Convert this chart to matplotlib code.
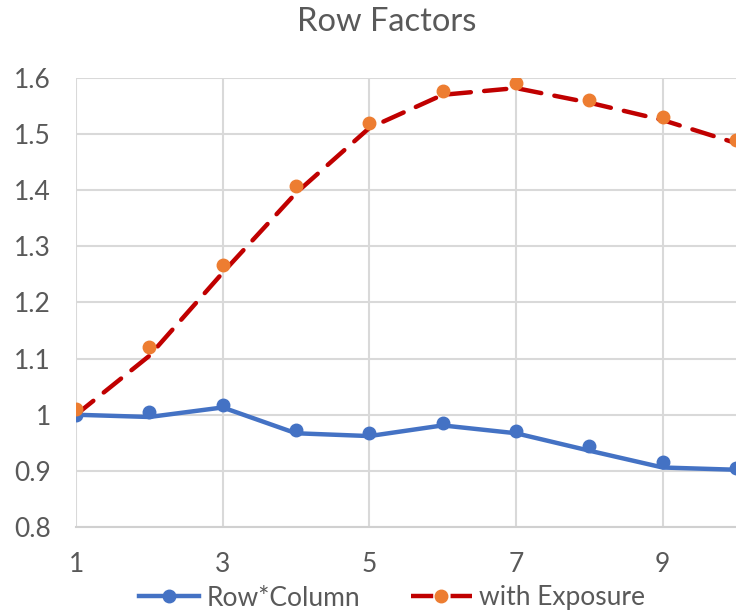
import numpy as np
import matplotlib.pyplot as plt
from matplotlib.lines import Line2D

plt.rcParams['font.family'] = ['Lato', 'DejaVu Sans']

rows = [1, 2, 3, 4, 5, 6, 7, 8, 9, 10]

# fitted curves
row_col_fit = [1.000, 0.996, 1.013, 0.967, 0.962, 0.981, 0.967, 0.936, 0.906, 0.902]
exposure_fit = [1.000, 1.105, 1.253, 1.395, 1.511, 1.570, 1.582, 1.556, 1.525, 1.484]

# observed points
row_col_obs = [1.000, 1.004, 1.018, 0.972, 0.967, 0.985, 0.971, 0.944, 0.916, 0.906]
exposure_obs = [1.010, 1.121, 1.266, 1.407, 1.519, 1.577, 1.591, 1.560, 1.531, 1.489]

blue = '#4472C4'
red = '#C00000'
orange = '#ED7D31'
grey = '#595959'

fig = plt.figure(figsize=(7.36, 6.13), dpi=100)
ax = fig.add_axes([0.1033, 0.1403, 0.8967, 0.7325])

ax.plot(rows, row_col_fit, color=blue, lw=3.2, solid_capstyle='round', zorder=3)
ax.plot(rows, row_col_obs, 'o', color=blue, ms=9, zorder=4)
ax.plot(rows, exposure_fit, color=red, lw=3.2, dashes=(5, 3), dash_capstyle='round', zorder=3)
ax.plot(rows, exposure_obs, 'o', color=orange, ms=9, zorder=4)

ax.set_xlim(1, 10)
ax.set_ylim(0.8, 1.6)
ax.set_xticks([1, 3, 5, 7, 9])
ax.set_yticks(np.arange(0.8, 1.61, 0.1))
ax.set_yticklabels(['0.8', '0.9', '1', '1.1', '1.2', '1.3', '1.4', '1.5', '1.6'])
ax.grid(True, color='#d9d9d9', lw=1.5)
ax.set_axisbelow(True)
for s in ['top', 'right', 'left']:
    ax.spines[s].set_visible(False)
ax.spines['bottom'].set_color('#d0d0d0')
ax.spines['bottom'].set_linewidth(1.5)
ax.tick_params(length=0, labelsize=19, labelcolor=grey)
ax.tick_params(axis='y', pad=18)
ax.tick_params(axis='x', pad=18)

fig.text(387 / 736, 1 - 22 / 613, 'Row Factors', ha='center', va='center', fontsize=23.5, color=grey)

handles = [
    Line2D([], [], color=blue, lw=3.2, marker='o', ms=9),
    Line2D([], [], color=red, lw=3.2, dashes=(5, 3.9), marker='o', ms=9,
           markerfacecolor=orange, markeredgecolor=orange),
]
fig.legend(handles, ['Row*Column', 'with Exposure'], loc='center', bbox_to_anchor=(392 / 736, 1 - 598 / 613),
           ncol=2, frameon=False, fontsize=19, labelcolor=grey, handlelength=2.3, columnspacing=1.9,
           handletextpad=0.3, borderpad=0.1)

fig.savefig('out.png', dpi=100)
